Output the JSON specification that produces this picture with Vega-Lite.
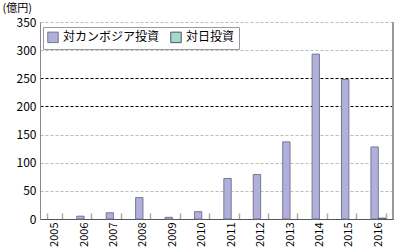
{
  "$schema": "https://vega.github.io/schema/vega-lite/v6.json",
  "autosize": "none",
  "width": 353,
  "height": 197,
  "padding": {"left": 40, "top": 22, "right": 1, "bottom": 33},
  "config": {
    "font": "Noto Sans CJK JP",
    "view": {"stroke": null}
  },
  "data": {
    "values": [
      {"year": "2006", "series": "対カンボジア投資", "value": 5},
      {"year": "2007", "series": "対カンボジア投資", "value": 11},
      {"year": "2008", "series": "対カンボジア投資", "value": 38},
      {"year": "2009", "series": "対カンボジア投資", "value": 3},
      {"year": "2010", "series": "対カンボジア投資", "value": 13},
      {"year": "2011", "series": "対カンボジア投資", "value": 72},
      {"year": "2012", "series": "対カンボジア投資", "value": 79},
      {"year": "2013", "series": "対カンボジア投資", "value": 137},
      {"year": "2014", "series": "対カンボジア投資", "value": 293},
      {"year": "2015", "series": "対カンボジア投資", "value": 248},
      {"year": "2016", "series": "対カンボジア投資", "value": 128},
      {"year": "2016", "series": "対日投資", "value": 1.5}
    ]
  },
  "layer": [
    {
      "mark": {"type": "rule", "color": "#999", "strokeWidth": 1},
      "encoding": {"x": {"value": 353}, "y": {"value": 0}, "y2": {"value": 197}}
    },
    {
      "mark": {"type": "bar", "strokeWidth": 1},
      "encoding": {
        "x": {
          "field": "year",
          "type": "nominal",
          "sort": null,
          "scale": {"domain": ["2005","2006","2007","2008","2009","2010","2011","2012","2013","2014","2015","2016"], "paddingInner": 0.5, "paddingOuter": 0.25},
          "axis": {
            "title": null,
            "labelAngle": -90,
            "labelAlign": "right",
            "labelBaseline": "middle",
            "labelFontSize": 11,
            "labelColor": "#000",
            "labelPadding": 9,
            "tickBand": "extent",
            "tickSize": -6,
            "tickColor": "#aaa",
            "tickWidth": 1.5,
            "domainColor": "#555",
            "grid": false
          }
        },
        "xOffset": {"field": "series", "type": "nominal", "scale": {"domain": ["対カンボジア投資", "対日投資"], "paddingInner": 0, "paddingOuter": 0}},
        "y": {
          "field": "value",
          "type": "quantitative",
          "scale": {"domain": [0, 350], "nice": false},
          "axis": {
            "values": [0, 50, 100, 150, 200, 250, 300, 350],
            "title": "(億円)",
            "titleAngle": 0,
            "titleAlign": "left",
            "titleBaseline": "middle",
            "titleX": -38,
            "titleY": -14,
            "titleFontSize": 11,
            "titleFontWeight": "normal",
            "titleColor": "#000",
            "labelFontSize": 12,
            "labelColor": "#000",
            "labelPadding": 4,
            "ticks": false,
            "domainColor": "#888",
            "grid": true,
            "gridDash": [3, 2],
            "gridColor": {"condition": {"test": "datum.value == 200 || datum.value == 250", "value": "#000"}, "value": "#bbb"}
          }
        },
        "color": {
          "field": "series",
          "type": "nominal",
          "scale": {"domain": ["対カンボジア投資", "対日投資"], "range": ["#b0b0da", "#a6d8cc"]},
          "legend": {
            "title": null,
            "orient": "none",
            "legendX": 3,
            "legendY": 5,
            "direction": "horizontal",
            "symbolType": "square",
            "symbolSize": 110,
            "symbolStrokeColor": "#777",
            "symbolStrokeWidth": 1,
            "labelFontSize": 12,
            "labelColor": "#000",
            "strokeColor": "#999",
            "fillColor": "#fff",
            "padding": 4,
            "columnPadding": 8,
            "labelOffset": 4
          }
        },
        "stroke": {
          "field": "series",
          "type": "nominal",
          "scale": {"domain": ["対カンボジア投資", "対日投資"], "range": ["#77779a", "#556"]},
          "legend": null
        }
      }
    }
  ]
}
